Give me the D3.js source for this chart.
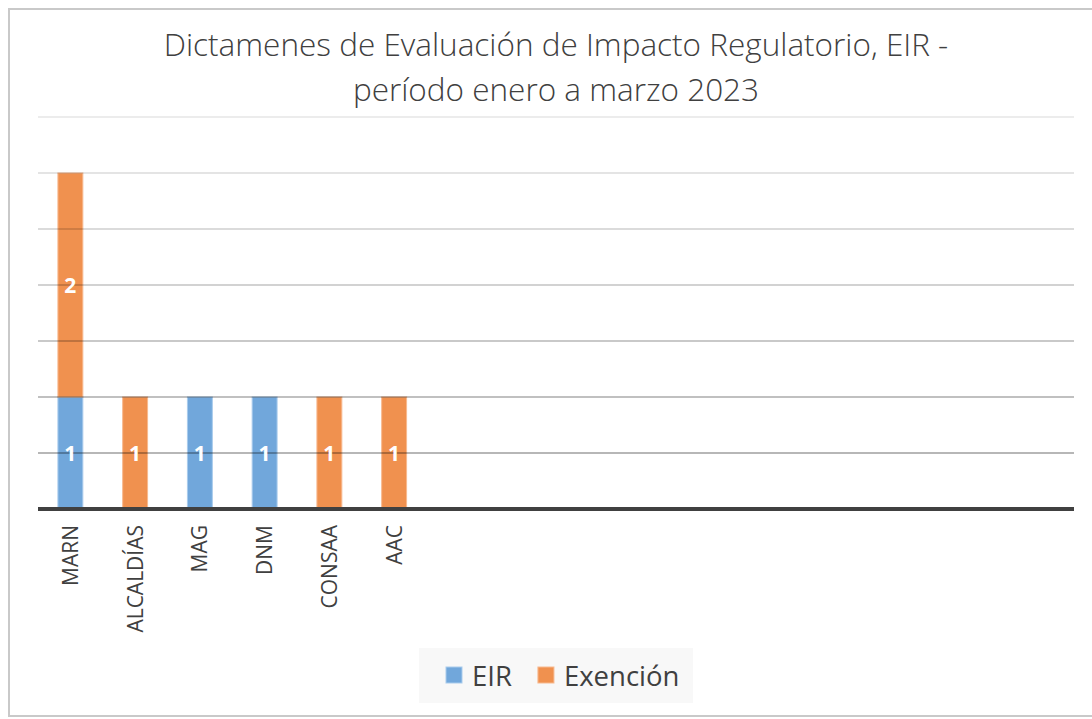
<!DOCTYPE html>
<html>
<head>
<meta charset="utf-8">
<script src="https://cdn.jsdelivr.net/npm/d3@7"></script>
<style>
  html, body { margin: 0; padding: 0; background: #fff; }
  svg { display: block; font-family: "Open Sans", "Noto Sans", sans-serif; }
</style>
</head>
<body>
<svg id="chart" width="1092" height="719"></svg>
<script>
// EIR dictámenes, enero–marzo 2023. Stacked bars, 16 slots (10 empty).
const categories = ["MARN", "ALCALDÍAS", "MAG", "DNM", "CONSAA", "AAC", "", "", "", "", "", "", "", "", "", ""];
const eir =       [1, 0, 1, 1, 0, 0, 0, 0, 0, 0, 0, 0, 0, 0, 0, 0];
const exencion =  [2, 1, 0, 0, 1, 1, 0, 0, 0, 0, 0, 0, 0, 0, 0, 0];
const seriesNames = ["EIR", "Exención"];
const gridTicks = [0.5, 1, 1.5, 2, 2.5, 3, 3.5];
const titleLines = ["Dictamenes de Evaluación de Impacto Regulatorio, EIR -", "período enero a marzo 2023"];

const colors = { EIR: "#71A7DB", "Exención": "#F0914F" };
const strokes = { EIR: "#a9cbec", "Exención": "#f7b98f" };
const W = 1092, H = 719;
const margin = { top: 117, right: 18, bottom: 210, left: 38 };

const svg = d3.select("#chart");

// frame
svg.append("rect").attr("x", 9).attr("y", 9).attr("width", W + 20).attr("height", H - 12)
  .attr("fill", "#fff").attr("stroke", "#c9c9c9").attr("stroke-width", 2);

// title
const title = svg.append("text").attr("text-anchor", "middle").attr("fill", "#404040")
  .attr("font-size", 31.5).attr("font-weight", 300);
titleLines.forEach((t, i) => title.append("tspan").attr("x", 556).attr("y", 56 + i * 45).text(t));

const idx = categories.map((c, i) => i);
const x = d3.scaleBand().domain(idx).range([margin.left, W - margin.right]).padding(0);
const y = d3.scaleLinear().domain([0, 3.5]).range([H - margin.bottom, margin.top]);
const barW = x.bandwidth() * 0.385;

const rows = idx.map(i => ({ i, EIR: eir[i], "Exención": exencion[i] }));
const stacked = d3.stack().keys(seriesNames)(rows);

const gBars = svg.append("g");
stacked.forEach(s => {
  gBars.selectAll(null).data(s.filter(d => d[1] - d[0] > 0)).join("rect")
    .attr("x", d => x(d.data.i) + (x.bandwidth() - barW) / 2)
    .attr("width", barW)
    .attr("y", d => y(d[1]))
    .attr("height", d => y(d[0]) - y(d[1]))
    .attr("fill", colors[s.key])
    .attr("stroke", strokes[s.key]).attr("stroke-width", 1);
});

// gridlines drawn over the bars, darker toward the axis
const shade = d3.scaleLinear().domain([0.5, 3.5]).range([0.38, 0.1]);
svg.append("g").selectAll("line").data(gridTicks).join("line")
  .attr("x1", margin.left).attr("x2", W - margin.right)
  .attr("y1", d => y(d)).attr("y2", d => y(d))
  .attr("stroke", "#000").attr("stroke-opacity", d => shade(d)).attr("stroke-width", 1.5);

// value labels
stacked.forEach(s => {
  svg.append("g").selectAll("text").data(s.filter(d => d[1] - d[0] > 0)).join("text")
    .attr("x", d => x(d.data.i) + x.bandwidth() / 2)
    .attr("y", d => y((d[0] + d[1]) / 2))
    .attr("dy", "0.36em").attr("text-anchor", "middle")
    .attr("fill", "#fff").attr("font-weight", 700).attr("font-size", 21)
    .text(d => d[1] - d[0]);
});

// x axis
const ax = svg.append("g").attr("transform", `translate(0,${y(0)})`)
  .call(d3.axisBottom(x).tickSize(0).tickFormat(i => categories[i]));
ax.select(".domain").attr("stroke", "#404040").attr("stroke-width", 4)
  .attr("d", `M${margin.left},0H${W - margin.right}`);
ax.selectAll("text")
  .attr("font-family", "'Open Sans', sans-serif").attr("font-size", 21).attr("fill", "#404040")
  .attr("transform", "rotate(-90)").attr("text-anchor", "end")
  .attr("x", -16).attr("y", 0).attr("dy", "0.36em");

// legend
const lg = svg.append("g");
lg.append("rect").attr("x", 419).attr("y", 648).attr("width", 274).attr("height", 55).attr("fill", "#f8f8f8");
let lx = 446;
seriesNames.forEach(n => {
  lg.append("rect").attr("x", lx).attr("y", 667).attr("width", 16).attr("height", 16)
    .attr("fill", colors[n]).attr("stroke", strokes[n]).attr("stroke-width", 1);
  const t = lg.append("text").attr("x", lx + 26).attr("y", 676).attr("dy", "0.36em")
    .attr("font-size", 27.5).attr("fill", "#404040").text(n);
  lx += 26 + t.node().getComputedTextLength() + 26;
});
</script>
</body>
</html>
